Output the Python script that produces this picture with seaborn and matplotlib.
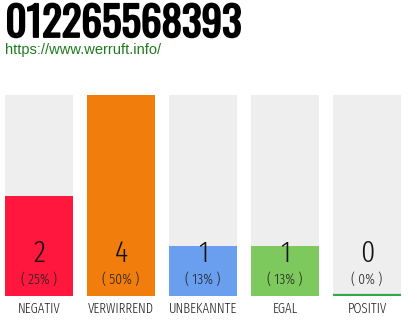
import matplotlib
matplotlib.use("Agg")
import matplotlib.pyplot as plt
import matplotlib.patheffects as pe
import seaborn as sns
import pandas as pd

title = "012265568393"
link = "https://www.werruft.info/"
categories = ["NEGATIV", "VERWIRREND", "UNBEKANNTE", "EGAL", "POSITIV"]
counts = [2, 4, 1, 1, 0]
percents = ["25%", "50%", "13%", "13%", "0%"]
colors = ["#ff173d", "#f07d0c", "#6a9eee", "#7dc95d", "#2eaa4a"]

sns.set_theme(style="white")
plt.rcParams['font.family'] = ['Fira Sans Extra Condensed', 'DejaVu Sans']

W, H = 410, 320
fig = plt.figure(figsize=(W / 100, H / 100), dpi=100)

top_px, bot_px = 95, 296
ax = fig.add_axes([0, (H - bot_px) / H, 1, (bot_px - top_px) / H])

maxv = max(counts)
df = pd.DataFrame({"cat": categories, "count": counts, "bg": [maxv] * len(counts)})
bw = 68 / 82
sns.barplot(data=df, x="cat", y="bg", color="#eeeeee", width=bw, ax=ax,
            saturation=1, order=categories, linewidth=0)
sns.barplot(data=df, x="cat", y="count", hue="cat", palette=colors, width=bw,
            ax=ax, saturation=1, order=categories, legend=False, dodge=False,
            linewidth=0)

for i, v in enumerate(counts):
    if v == 0:
        ax.plot([i - bw / 2, i + bw / 2], [0.02, 0.02], color=colors[i], lw=1.6,
                solid_capstyle="butt")

ax.set_xlim((0 - 39) / 82, (410 - 39) / 82)
ax.set_ylim(0, maxv)
ax.axis("off")

def ypx(p):
    return (H - p) / H

for i, (v, p) in enumerate(zip(counts, percents)):
    xc = (39 + 82 * i) / W
    fig.text(xc, ypx(262), str(v), ha="center", va="baseline", fontsize=22,
             color="#111111", fontweight=300)
    fig.text(xc, ypx(284), f"( {p} )", ha="center", va="baseline", fontsize=10.5,
             color="#222222", fontweight=300)
    fig.text(xc, ypx(313), categories[i], ha="center", va="baseline", fontsize=10,
             color="#222222", fontweight=300)

fig.text(5.5 / W, ypx(37), title, ha="left", va="baseline", fontsize=29.5,
         fontweight="bold", color="#000000", family=["Oswald", "DejaVu Sans"],
         path_effects=[pe.withStroke(linewidth=1.3, foreground="#000000")])
fig.text(5 / W, ypx(54), link, ha="left", va="baseline", fontsize=10.5,
         color="#1e7b1e", family=["Liberation Sans", "DejaVu Sans"])

fig.savefig("out.png", dpi=100, facecolor="white")
